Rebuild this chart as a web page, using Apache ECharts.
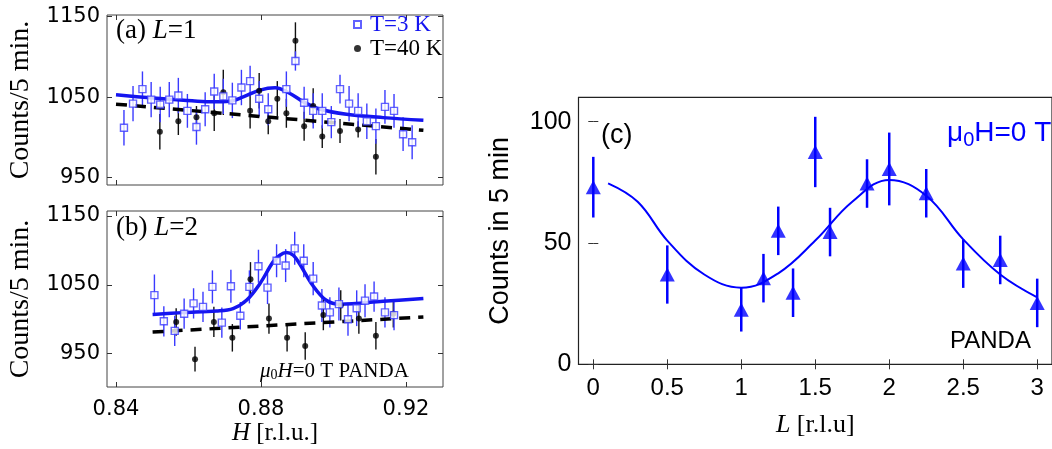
<!DOCTYPE html>
<html lang="en">
<head>
    <meta charset="UTF-8">
    <title>Counts vs H and L</title>
    <script type="text/javascript" src="https://cdn.jsdelivr.net/npm/echarts@6/dist/echarts.min.js"></script>
    <style>
        html, body { margin: 0; padding: 0; background: #fff; }
    </style>
</head>
<body>
<div id="main" style="width: 1052px;height:449px;"></div>
<script>
    // (a) L=1, T=3 K : H, counts, error
    var hA3 = [0.8422, 0.8447, 0.8473, 0.8497, 0.8522, 0.8547, 0.8572, 0.8597, 0.8622, 0.8646, 0.8671,
        0.8696, 0.8721, 0.8746, 0.8770, 0.8795, 0.8820, 0.8870, 0.8895, 0.8919, 0.8944, 0.8969,
        0.8994, 0.9018, 0.9043, 0.9068, 0.9092, 0.9117, 0.9142, 0.9167, 0.9192, 0.9217];
    var cA3 = [1012, 1042, 1060, 1047, 1041, 1047, 1052, 1033, 1013, 1035, 1057,
        1051, 1046, 1062, 1070, 1048, 1035, 1060, 1095, 1043, 1033, 1033,
        1019, 1060, 1042, 1033, 1020, 1014, 1038, 1033, 1004, 994];
    var eA3 = [22, 22, 22, 22, 22, 22, 22, 21, 22, 21, 22,
        22, 22, 22, 19, 22, 20, 22, 12, 20, 22, 22,
        20, 18, 22, 22, 22, 22, 21, 21, 21, 21];
    // (a) L=1, T=40 K
    var hA40 = [0.8521, 0.8572, 0.8622, 0.8671, 0.8696, 0.8770, 0.8795, 0.8820, 0.8845, 0.8870, 0.8895,
        0.8919, 0.8944, 0.8969, 0.9018, 0.9068, 0.9117];
    var cA40 = [1007, 1020, 1025, 1030, 1056, 1033, 1058, 1020, 1048, 1030, 1120,
        1014, 1039, 1001, 1008, 1010, 976];
    var eA40 = [22, 17, 14, 22, 28, 22, 22, 16, 22, 18, 23,
        18, 22, 14, 15, 10, 22];
    // (a) fit curves
    var fitAH = [0.8400, 0.8494, 0.8586, 0.8659, 0.8714, 0.8751, 0.8797, 0.8839, 0.8880, 0.8917,
        0.8963, 0.9036, 0.9137, 0.9248];
    var fitA3 = [1052.9, 1049.2, 1046.3, 1044.2, 1045.0, 1050.4, 1058.8, 1061.7, 1054.6, 1044.2,
        1035.0, 1028.8, 1024.6, 1021.3];
    var dashAH = [0.8400, 0.9248];
    var dashA40 = [1041.3, 1008.8];

    // (b) L=2, T=3 K
    var hB3 = [0.8506, 0.8532, 0.8562, 0.8588, 0.8614, 0.8640, 0.8666, 0.8692, 0.8717, 0.8743, 0.8768,
        0.8793, 0.8818, 0.8843, 0.8868, 0.8893, 0.8918, 0.8944, 0.8968, 0.8990, 0.9015, 0.9040,
        0.9064, 0.9087, 0.9112, 0.9142, 0.9167];
    var cB3 = [1035, 997, 983, 1008, 1023, 1018, 1047, 995, 1048, 1005, 1047,
        1077, 1046, 1085, 1078, 1103, 1085, 1059, 1020, 1010, 1022, 1000,
        1016, 1027, 1033, 1010, 1006];
    var eB3 = [30, 22, 22, 22, 22, 22, 24, 22, 24, 20, 24,
        24, 24, 24, 24, 24, 24, 24, 24, 22, 24, 24,
        26, 24, 22, 22, 22];
    // (b) L=2, T=40 K
    var hB40 = [0.8566, 0.8618, 0.8670, 0.8721, 0.8771, 0.8822, 0.8872, 0.8922, 0.8972, 0.9020, 0.9070,
        0.9117, 0.9165];
    var cB40 = [996, 942, 996, 973, 1058, 1001, 973, 961, 1006, 1020, 1001, 976, 1008];
    var eB40 = [20, 18, 22, 20, 25, 22, 20, 20, 22, 22, 22, 20, 20];
    // (b) fit curves
    var fitBH = [0.8501, 0.8585, 0.8677, 0.8723, 0.8760, 0.8797, 0.8833, 0.8852, 0.8870, 0.8889,
        0.8906, 0.8943, 0.8980, 0.9018, 0.9137, 0.9248];
    var fitB3 = [1007.0, 1009.6, 1012.0, 1015.5, 1027.5, 1051.7, 1083.0, 1093.0, 1097.0, 1093.0,
        1081.0, 1049.0, 1027.5, 1021.7, 1026.0, 1030.0];
    var dashBH = [0.8501, 0.9248];
    var dashB40 = [981.4, 1003.2];

    // (c) counts vs L
    var lC = [0, 0.5, 1.0, 1.15, 1.25, 1.35, 1.5, 1.6, 1.85, 2.0, 2.25, 2.5, 2.75, 3.0];
    var cC = [73, 37, 22.5, 35.5, 55, 29.5, 87.5, 54.5, 74.5, 80.5, 70.5, 41.5, 43, 25.3];
    var eC = [12.5, 12, 9, 10, 10, 10, 14.5, 10, 10, 15, 10, 10, 10, 10];
    var fitCL = [0.1, 0.3, 0.5, 0.75, 1.0, 1.25, 1.5, 1.75, 2.0, 2.25, 2.5, 2.75, 3.0];
    var fitC = [74.6, 67, 51, 37, 31.6, 37.5, 51, 67, 76, 69.5, 51.5, 37, 27.6];

    // tick labels
    var hTicks = [0.84, 0.88, 0.92];
    var yTicksA = [950, 1050, 1150];
    var yTicksB = [950, 1050, 1150];
    var lTicks = [0, 0.5, 1, 1.5, 2, 2.5, 3];
    var yTicksC = [0, 50, 100];

    var serif = '"Liberation Serif", "DejaVu Serif", serif';
    var sans = '"Liberation Sans", Arial, sans-serif';
    var blue = '#1515f0';
    var lightBlue = '#3a3aff';
    var cBlue = '#0000ff';

    function zip() {
        var arrs = arguments, out = [];
        for (var i = 0; i < arrs[0].length; i++) {
            var row = [];
            for (var j = 0; j < arrs.length; j++) row.push(arrs[j][i]);
            out.push(row);
        }
        return out;
    }

    // vertical error bars drawn through the axis scales
    function errBars(color, width) {
        return function (params, api) {
            var x = api.value(0), y = api.value(1), e = api.value(2);
            var p1 = api.coord([x, y - e]);
            var p2 = api.coord([x, y + e]);
            return {
                type: 'line',
                shape: {x1: p1[0], y1: p1[1], x2: p2[0], y2: p2[1]},
                style: {stroke: color, lineWidth: width}
            };
        };
    }

    // plain numbers, no thousands separator
    function plain(v) {
        return String(v);
    }

    function xAx(grid, pos, min, max, ticks, showLabel, font, size) {
        return {
            type: 'value', gridIndex: grid, position: pos, min: min, max: max,
            axisLine: {show: false},
            splitLine: {show: false},
            axisTick: {show: true, inside: true, length: 5, customValues: ticks,
                lineStyle: {color: '#333', width: 1}},
            axisLabel: {show: showLabel, customValues: ticks, margin: 12, formatter: plain,
                fontFamily: font, fontSize: size, color: '#000'}
        };
    }

    function yAx(grid, pos, min, max, ticks, showLabel, font, size) {
        return {
            type: 'value', gridIndex: grid, position: pos, min: min, max: max,
            axisLine: {show: false},
            splitLine: {show: false},
            axisTick: {show: true, inside: true, length: 5, customValues: ticks,
                lineStyle: {color: '#333', width: 1}},
            axisLabel: {show: showLabel, customValues: ticks, margin: 7, formatter: plain,
                fontFamily: font, fontSize: size, color: '#000'}
        };
    }

    var xAxes = [
        xAx(0, 'bottom', 0.83752, 0.93021, hTicks, false, 'DejaVu Sans', 21),
        xAx(0, 'top', 0.83752, 0.93021, hTicks, false),
        xAx(1, 'bottom', 0.83752, 0.93021, hTicks, true, 'DejaVu Sans', 21),
        xAx(1, 'top', 0.83752, 0.93021, hTicks, false),
        xAx(2, 'bottom', -0.1, 3.1, lTicks, true, sans, 24),
        xAx(2, 'top', -0.1, 3.1, lTicks, false)
    ];
    var yAxes = [
        yAx(0, 'left', 940.9, 1152.1, yTicksA, true, 'DejaVu Sans', 21),
        yAx(0, 'right', 940.9, 1152.1, yTicksA, false),
        yAx(1, 'left', 901.5, 1157.3, yTicksB, true, 'DejaVu Sans', 21),
        yAx(1, 'right', 901.5, 1157.3, yTicksB, false),
        yAx(2, 'left', 0, 110, yTicksC, true, sans, 25),
        yAx(2, 'right', 0, 110, yTicksC, false)
    ];

    // axis titles
    yAxes[0].name = 'Counts/5 min.';
    yAxes[2].name = 'Counts/5 min.';
    [0, 2].forEach(function (i) {
        yAxes[i].nameLocation = 'middle';
        yAxes[i].nameGap = 72;
        yAxes[i].nameTextStyle = {fontFamily: serif, fontSize: 28, color: '#000'};
    });
    xAxes[2].name = '{i|H} [r.l.u.]';
    xAxes[2].nameLocation = 'middle';
    xAxes[2].nameGap = 34;
    xAxes[2].nameTextStyle = {fontFamily: serif, fontSize: 25, color: '#000',
        rich: {i: {fontFamily: serif, fontSize: 25, fontStyle: 'italic'}}};
    yAxes[4].name = 'Counts in 5 min';
    yAxes[4].nameLocation = 'middle';
    yAxes[4].nameGap = 64;
    yAxes[4].nameTextStyle = {fontFamily: sans, fontSize: 27, color: '#000'};
    xAxes[4].name = '{i|L} [r.l.u]';
    xAxes[4].nameLocation = 'middle';
    xAxes[4].nameGap = 48;
    xAxes[4].nameTextStyle = {fontFamily: serif, fontSize: 26, color: '#000',
        rich: {i: {fontFamily: serif, fontSize: 26, fontStyle: 'italic'}}};

    var option = {
        animation: false,
        backgroundColor: '#fff',
        grid: [
            {left: 107, top: 15, width: 336, height: 170, show: true, borderColor: '#444', borderWidth: 1},
            {left: 107, top: 211, width: 336, height: 176, show: true, borderColor: '#444', borderWidth: 1},
            {left: 578.5, top: 97.4, width: 473.6, height: 266.9, show: true, borderColor: '#222', borderWidth: 1.2}
        ],
        xAxis: xAxes,
        yAxis: yAxes,
        legend: {
            data: [
                {name: 'T=3 K', textStyle: {color: blue}},
                {name: 'T=40 K', textStyle: {color: '#000'}}
            ],
            orient: 'vertical',
            left: 353,
            top: 13,
            padding: 0,
            itemGap: 1,
            itemWidth: 7,
            itemHeight: 7,
            selectedMode: false,
            textStyle: {fontFamily: serif, fontSize: 23, lineHeight: 23, padding: [0, 0, 0, 4]}
        },
        series: [
            // panel (a)
            {type: 'custom', xAxisIndex: 0, yAxisIndex: 0, z: 1, renderItem: errBars('#111', 1.4),
                data: zip(hA40, cA40, eA40)},
            {type: 'custom', xAxisIndex: 0, yAxisIndex: 0, z: 1, renderItem: errBars(lightBlue, 1.4),
                data: zip(hA3, cA3, eA3)},
            {type: 'line', xAxisIndex: 0, yAxisIndex: 0, z: 2, symbol: 'none',
                lineStyle: {color: '#000', width: 3.5, type: [11, 8]}, data: zip(dashAH, dashA40)},
            {type: 'line', xAxisIndex: 0, yAxisIndex: 0, z: 3, symbol: 'none', smooth: 0.35,
                lineStyle: {color: blue, width: 3.5}, data: zip(fitAH, fitA3)},
            {name: 'T=40 K', type: 'scatter', xAxisIndex: 0, yAxisIndex: 0, z: 4, symbol: 'circle',
                symbolSize: 6, itemStyle: {color: '#000'}, data: zip(hA40, cA40)},
            {name: 'T=3 K', type: 'scatter', xAxisIndex: 0, yAxisIndex: 0, z: 5, symbol: 'rect',
                symbolSize: 7, itemStyle: {color: '#fff', borderColor: lightBlue, borderWidth: 1.4},
                data: zip(hA3, cA3)},
            // panel (b)
            {type: 'custom', xAxisIndex: 2, yAxisIndex: 2, z: 1, renderItem: errBars('#111', 1.4),
                data: zip(hB40, cB40, eB40)},
            {type: 'custom', xAxisIndex: 2, yAxisIndex: 2, z: 1, renderItem: errBars(lightBlue, 1.4),
                data: zip(hB3, cB3, eB3)},
            {type: 'line', xAxisIndex: 2, yAxisIndex: 2, z: 2, symbol: 'none',
                lineStyle: {color: '#000', width: 3.5, type: [11, 8]}, data: zip(dashBH, dashB40)},
            {type: 'line', xAxisIndex: 2, yAxisIndex: 2, z: 3, symbol: 'none', smooth: 0.35,
                lineStyle: {color: blue, width: 3.5}, data: zip(fitBH, fitB3)},
            {name: 'T=40 K', type: 'scatter', xAxisIndex: 2, yAxisIndex: 2, z: 4, symbol: 'circle',
                symbolSize: 6, itemStyle: {color: '#000'}, data: zip(hB40, cB40)},
            {name: 'T=3 K', type: 'scatter', xAxisIndex: 2, yAxisIndex: 2, z: 5, symbol: 'rect',
                symbolSize: 7, itemStyle: {color: '#fff', borderColor: lightBlue, borderWidth: 1.4},
                data: zip(hB3, cB3)},
            // panel (c)
            {type: 'custom', xAxisIndex: 4, yAxisIndex: 4, z: 1, renderItem: errBars(cBlue, 2.5),
                data: zip(lC, cC, eC)},
            {type: 'line', xAxisIndex: 4, yAxisIndex: 4, z: 2, symbol: 'none', smooth: 0.4,
                lineStyle: {color: cBlue, width: 2}, data: zip(fitCL, fitC)},
            {type: 'scatter', xAxisIndex: 4, yAxisIndex: 4, z: 3, symbol: 'triangle',
                symbolSize: [15, 14], itemStyle: {color: cBlue}, data: zip(lC, cC)}
        ],
        graphic: [
            {type: 'text', left: 116, top: 17, z: 10, style: {
                text: '(a) {i|L}=1', fontFamily: serif, fontSize: 27, fill: '#000',
                rich: {i: {fontFamily: serif, fontSize: 27, fontStyle: 'italic'}}}},
            {type: 'text', left: 116, top: 214, z: 10, style: {
                text: '(b) {i|L}=2', fontFamily: serif, fontSize: 27, fill: '#000',
                rich: {i: {fontFamily: serif, fontSize: 27, fontStyle: 'italic'}}}},
            {type: 'text', left: 260, top: 361, z: 10, style: {
                text: '{i|μ}{s|0}{i|H}=0 T PANDA', fontFamily: serif, fontSize: 21, fill: '#000',
                rich: {
                    i: {fontFamily: serif, fontSize: 21, fontStyle: 'italic'},
                    s: {fontFamily: serif, fontSize: 14, padding: [8, 0, 0, 0]}
                }}},
            {type: 'text', left: 601, top: 122, z: 10, style: {
                text: '(c)', fontFamily: sans, fontSize: 27, fill: '#000'}},
            {type: 'text', left: 947, top: 119, z: 10, style: {
                text: 'μ{s|0}H=0 T', fontFamily: sans, fontSize: 28, fill: cBlue,
                rich: {s: {fontFamily: sans, fontSize: 20, fill: cBlue, padding: [14, 0, 0, 0]}}}},
            {type: 'text', left: 950, top: 329, z: 10, style: {
                text: 'PANDA', fontFamily: sans, fontSize: 24, fill: '#000'}}
        ]
    };

    var myChart = echarts.init(document.getElementById('main'));
    myChart.setOption(option);
</script>
</body>
</html>
